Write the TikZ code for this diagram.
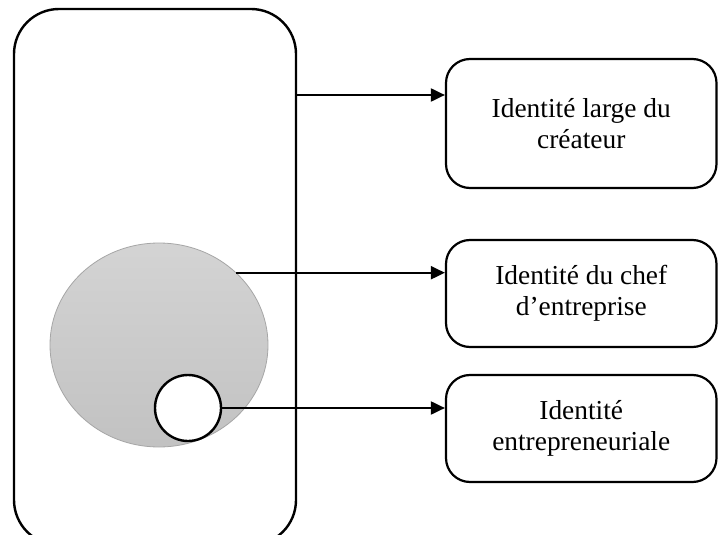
\documentclass[tikz,border=0pt]{standalone}
\usepackage{fontspec}
\setmainfont{Liberation Serif}
\usetikzlibrary{shapes.geometric,arrows.meta}
\begin{document}
\begin{tikzpicture}[x=.5pt, y=-.5pt,
    idbox/.style={draw, line width=1.1pt, rounded corners=12pt, minimum width=135.25pt,
        align=center, inner sep=0pt, font=\fontsize{13.7}{15.5}\selectfont},
    link/.style={draw, line width=1pt, -{Triangle[length=7pt,width=6.5pt]}}]
\useasboundingbox (0,0) rectangle (718,535);
\clip (0,0) rectangle (718,535);

% the person
\node[draw, line width=1.2pt, rounded corners=22.5pt, minimum width=141pt,
    minimum height=268pt, inner sep=0pt] (person) at (155,277) {};
\node[ellipse, draw=black!35, line width=.4pt, top color=black!17, bottom color=black!24,
    minimum width=109pt, minimum height=102pt, inner sep=0pt] (chef) at (159,345) {};
\node[circle, draw, fill=white, line width=1.2pt, minimum size=33pt, inner sep=0pt] (entr) at (188,408) {};

% the three identities
\node[idbox, minimum height=64.5pt] (large) at (581.25,123.5) {Identité large du\\créateur};
\node[idbox, minimum height=53.5pt] (dirig) at (581.25,293.5) {Identité du chef\\d’entreprise};
\node[idbox, minimum height=53.5pt] (entrep) at (581.25,428.5) {Identité\\entrepreneuriale};

\coordinate (c1) at (296,95);
\draw[link] (c1) -- (c1 -| large.west);
\draw[link] (chef.43) -- (chef.43 -| dirig.west);
\draw[link] (entr.east) -- (entr.east -| entrep.west);
\end{tikzpicture}
\end{document}
